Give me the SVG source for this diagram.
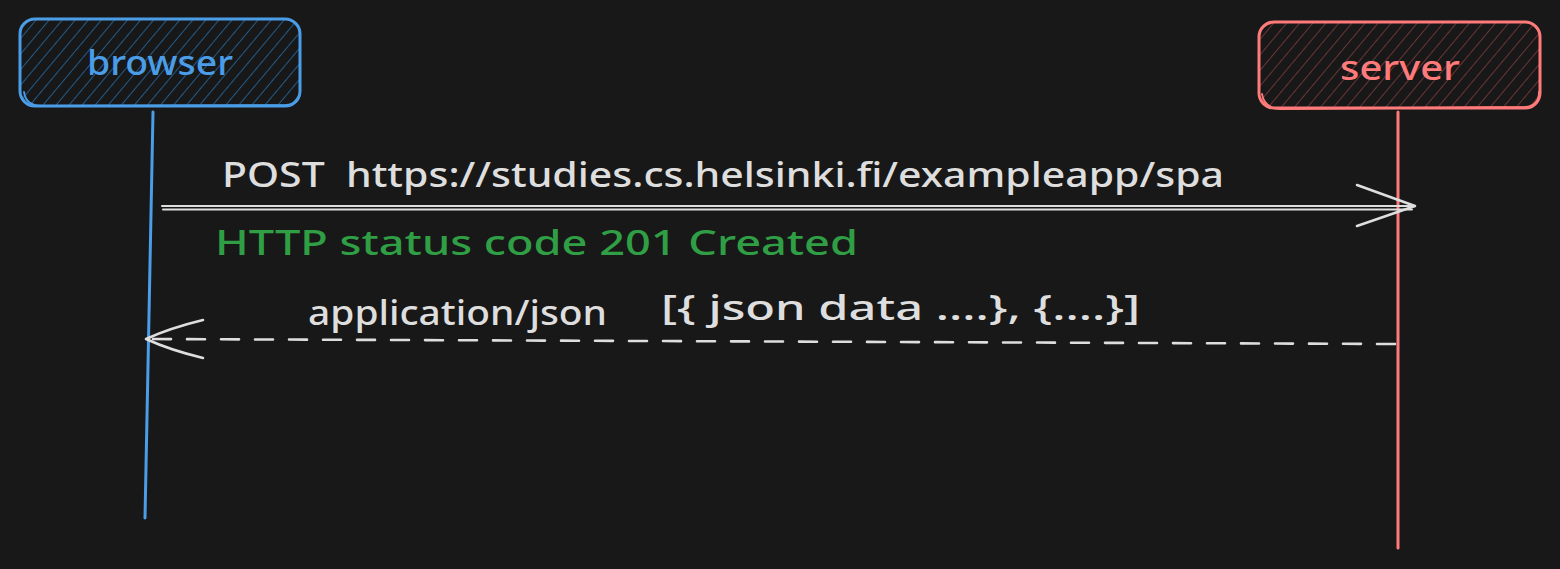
<svg xmlns="http://www.w3.org/2000/svg" width="1560" height="569" viewBox="0 0 1560 569">
  <style>
    .label { font-family: "Noto Sans", "Open Sans", sans-serif; font-size: 34px; font-weight: 500; }
    .msg { fill: #dedede; }
    .ok { fill: #2f9e44; }
    .line { fill: none; stroke-linecap: round; stroke-linejoin: round; }
  </style>
  <defs>
    <pattern id="hatchBlue" patternUnits="userSpaceOnUse" width="10" height="10" patternTransform="rotate(40)">
      <line x1="0" y1="0" x2="0" y2="10" stroke="#235a88" stroke-width="2"/>
    </pattern>
    <pattern id="hatchRed" patternUnits="userSpaceOnUse" width="10" height="10" patternTransform="rotate(40)">
      <line x1="0" y1="0" x2="0" y2="10" stroke="#6a3535" stroke-width="2"/>
    </pattern>
  </defs>

  <rect width="1560" height="569" fill="#181818"/>

  <!-- participant: browser -->
  <g id="browser">
    <rect x="20" y="19" width="280" height="87" rx="15" fill="url(#hatchBlue)" stroke="#4a9de6" stroke-width="3"/>
    <path class="line" d="M24 92 Q26 106 42 106 L286 105 Q300 104 300 92" stroke="#4a9de6" stroke-width="1.8"/>
    <text class="label" x="160" y="75" text-anchor="middle" fill="#4a9de6" font-size="31" textLength="146" lengthAdjust="spacingAndGlyphs">browser</text>
  </g>

  <!-- participant: server -->
  <g id="server">
    <rect x="1259" y="22" width="281" height="86" rx="15" fill="url(#hatchRed)" stroke="#ff7b7b" stroke-width="3"/>
    <path class="line" d="M1262 94 Q1264 108 1280 109 L1525 107 Q1539 106 1539 92" stroke="#ff7b7b" stroke-width="1.8"/>
    <text class="label" x="1400" y="80" text-anchor="middle" fill="#ff7b7b" font-size="31" textLength="120" lengthAdjust="spacingAndGlyphs">server</text>
  </g>

  <!-- lifelines and messages -->
  <g id="connectors">
    <path class="line" d="M153 112 L145 518" stroke="#4a9de6" stroke-width="3"/>
    <path class="line" d="M1398 112 L1398 548" stroke="#ff7b7b" stroke-width="3"/>

    <!-- request -->
    <path class="line" d="M162 206 L1415 206 M163 209.5 L1412 209.5" stroke="#dedede" stroke-width="2"/>
    <path class="line" d="M1357 185 L1415 206 L1357 226" stroke="#dedede" stroke-width="2.6"/>

    <!-- response -->
    <path class="line" d="M1395 344 L147 339" stroke="#dedede" stroke-width="2.6" stroke-dasharray="18 16"/>
    <path class="line" d="M203 320 Q170 328 146 339 Q170 350 203 358" stroke="#dedede" stroke-width="2.6"/>
  </g>

  <!-- message labels -->
  <text class="label msg" x="222" y="187" textLength="1002" lengthAdjust="spacingAndGlyphs" xml:space="preserve">POST  https://studies.cs.helsinki.fi/exampleapp/spa</text>
  <text class="label ok" x="215" y="255" textLength="643" lengthAdjust="spacingAndGlyphs">HTTP status code 201 Created</text>
  <text class="label msg" x="308" y="325" textLength="299" lengthAdjust="spacingAndGlyphs">application/json</text>
  <text class="label msg" x="661" y="320" textLength="479" lengthAdjust="spacingAndGlyphs">[{ json data ....}, {....}]</text>
</svg>
